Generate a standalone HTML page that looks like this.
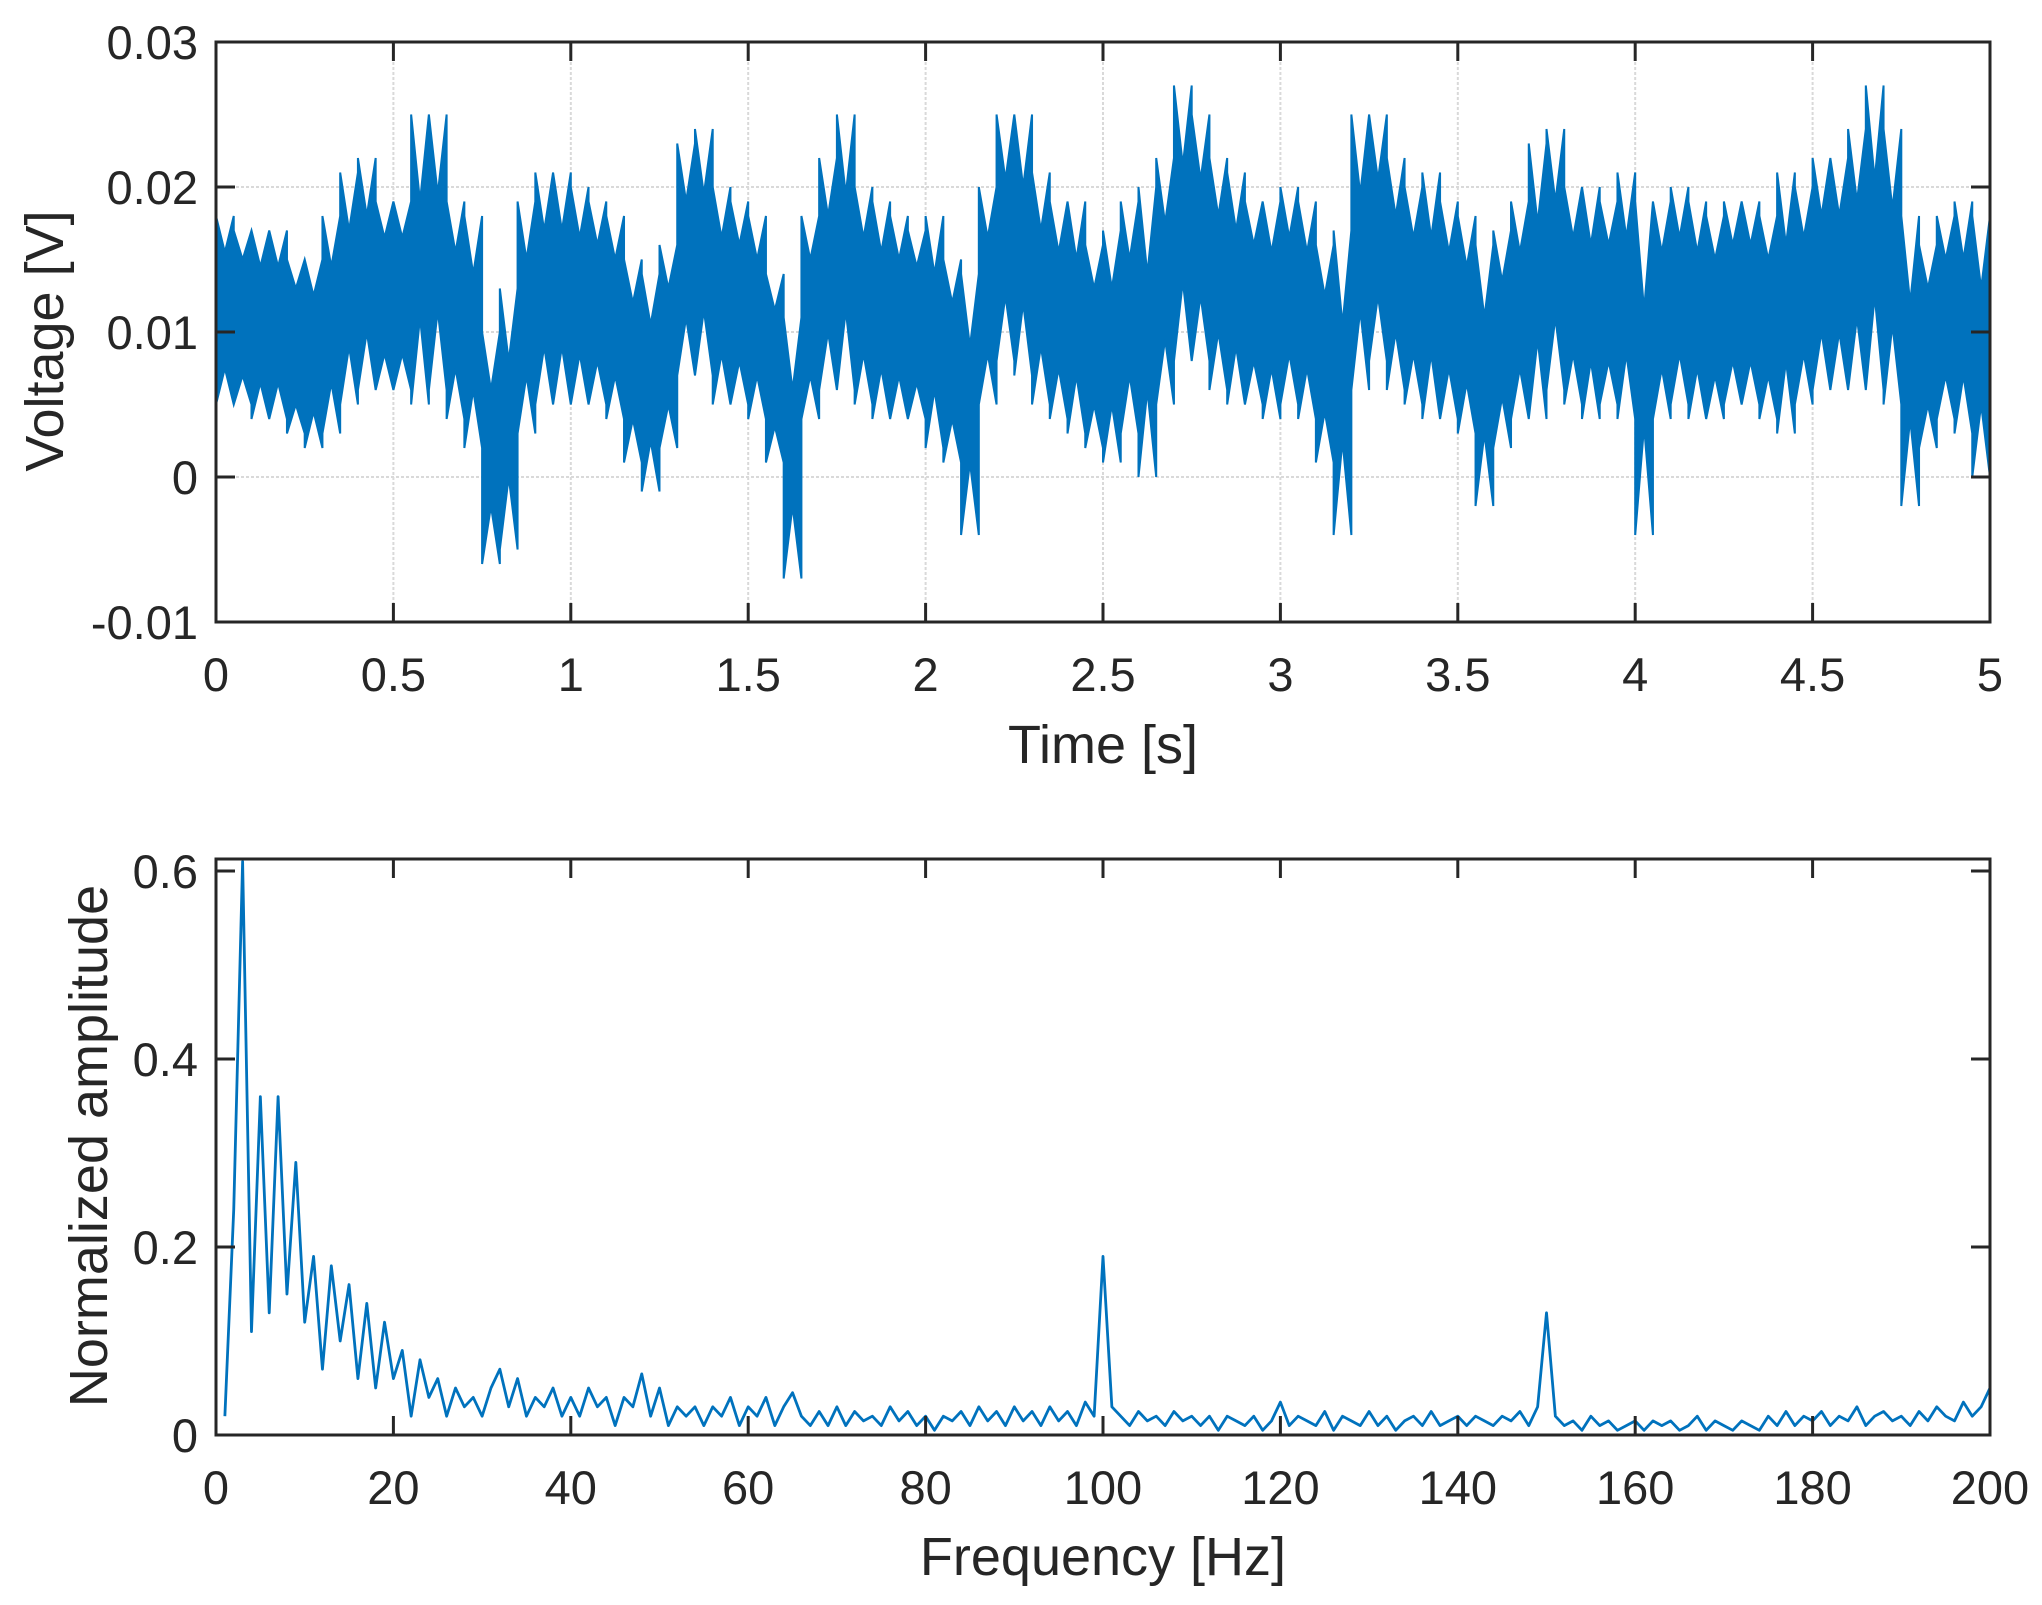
<!DOCTYPE html>
<html><head><meta charset="utf-8"><style>
html,body{margin:0;padding:0;background:#fff;}
svg{display:block;font-family:"Liberation Sans",Arial,sans-serif;}
</style></head><body>
<svg id="fig" width="2042" height="1605" viewBox="0 0 2042 1605" xmlns="http://www.w3.org/2000/svg"></svg>
<script>
// ---- time-domain data (0.05 s bins: upper / lower envelope, V) ----
const binStart = 0, binWidth = 0.05;
const envHi = [0.018,0.017,0.017,0.017,0.015,0.015,0.018,0.021,0.022,0.019,
0.019,0.025,0.025,0.019,0.018,0.010,0.013,0.019,0.021,0.021,
0.020,0.019,0.018,0.015,0.014,0.016,0.023,0.024,0.020,0.019,
0.018,0.014,0.011,0.018,0.022,0.025,0.020,0.019,0.018,0.017,
0.018,0.015,0.014,0.020,0.025,0.025,0.021,0.019,0.019,0.016,
0.017,0.019,0.020,0.022,0.027,0.025,0.022,0.021,0.019,0.019,
0.020,0.019,0.016,0.017,0.025,0.025,0.022,0.020,0.021,0.019,
0.018,0.016,0.017,0.019,0.023,0.024,0.020,0.020,0.019,0.021,
0.019,0.019,0.020,0.019,0.018,0.019,0.019,0.018,0.021,0.020,
0.022,0.022,0.024,0.027,0.024,0.018,0.016,0.018,0.019,0.018];
const envLo = [0.005,0.005,0.004,0.004,0.003,0.002,0.003,0.005,0.006,0.006,
0.006,0.005,0.006,0.004,0.002,-0.006,-0.005,0.003,0.005,0.005,
0.005,0.005,0.004,0.001,-0.001,0.002,0.007,0.007,0.005,0.005,
0.004,0.001,-0.007,0.004,0.006,0.006,0.005,0.004,0.004,0.004,
0.002,0.001,-0.004,0.005,0.008,0.007,0.005,0.004,0.003,0.002,
0.001,0.003,0.000,0.005,0.008,0.008,0.006,0.005,0.005,0.004,
0.005,0.004,0.001,-0.004,0.006,0.008,0.006,0.005,0.004,0.004,
0.003,-0.002,0.002,0.004,0.004,0.006,0.005,0.004,0.005,0.004,
-0.004,0.004,0.005,0.004,0.004,0.005,0.005,0.004,0.003,0.005,
0.006,0.006,0.006,0.006,0.005,-0.002,0.002,0.004,0.003,0.000];
const tTicks = ["0","0.5","1","1.5","2","2.5","3","3.5","4","4.5","5"];
const vTicks = ["-0.01","0","0.01","0.02","0.03"];
// ---- spectrum data (1 Hz steps starting at 1 Hz) ----
const fStart = 1, fStep = 1;
const amps = [0.02,0.24,0.61,0.11,0.36,0.13,0.36,0.15,0.29,0.12,
0.19,0.07,0.18,0.10,0.16,0.06,0.14,0.05,0.12,0.06,
0.09,0.02,0.08,0.04,0.06,0.02,0.05,0.03,0.04,0.02,
0.05,0.07,0.03,0.06,0.02,0.04,0.03,0.05,0.02,0.04,
0.02,0.05,0.03,0.04,0.01,0.04,0.03,0.065,0.02,0.05,
0.01,0.03,0.02,0.03,0.01,0.03,0.02,0.04,0.01,0.03,
0.02,0.04,0.01,0.03,0.045,0.02,0.01,0.025,0.01,0.03,
0.01,0.025,0.015,0.02,0.01,0.03,0.015,0.025,0.01,0.02,
0.005,0.02,0.015,0.025,0.01,0.03,0.015,0.025,0.01,0.03,
0.015,0.025,0.01,0.03,0.015,0.025,0.01,0.035,0.02,0.19,
0.03,0.02,0.01,0.025,0.015,0.02,0.01,0.025,0.015,0.02,
0.01,0.02,0.005,0.02,0.015,0.01,0.02,0.005,0.015,0.035,
0.01,0.02,0.015,0.01,0.025,0.005,0.02,0.015,0.01,0.025,
0.01,0.02,0.005,0.015,0.02,0.01,0.025,0.01,0.015,0.02,
0.01,0.02,0.015,0.01,0.02,0.015,0.025,0.01,0.03,0.13,
0.02,0.01,0.015,0.005,0.02,0.01,0.015,0.005,0.01,0.015,
0.005,0.015,0.01,0.015,0.005,0.01,0.02,0.005,0.015,0.01,
0.005,0.015,0.01,0.005,0.02,0.01,0.025,0.01,0.02,0.015,
0.025,0.01,0.02,0.015,0.03,0.01,0.02,0.025,0.015,0.02,
0.01,0.025,0.015,0.03,0.02,0.015,0.035,0.02,0.03,0.05];
const fTicks = ["0","20","40","60","80","100","120","140","160","180","200"];
const aTicks = ["0","0.2","0.4","0.6"];

const NS="http://www.w3.org/2000/svg";
const svg=document.getElementById('fig');
function mk(tag,attrs,parent){const e=document.createElementNS(NS,tag);for(const k in attrs)e.setAttribute(k,attrs[k]);(parent||svg).appendChild(e);return e;}
const L=216,R=1990;
const T1=42,B1=622,T2=859,B2=1435;
const xT=t=>L+(t-0)/5*(R-L);
const yV=v=>B1-(v+0.01)/0.04*(B1-T1);
const xF=f=>L+f/200*(R-L);
const aMax=0.6*(B2-T2)/564;
const yA=a=>B2-a/aMax*(B2-T2);
const tc='#262626';

// ---- top grid
tTicks.forEach(s=>{const x=xT(parseFloat(s));
 const g=mk('line',{x1:x,x2:x,y1:T1,y2:B1,stroke:'#d9d9d9','stroke-width':2,'stroke-dasharray':'3,2'});
 
 });
vTicks.forEach(s=>{const y=yV(parseFloat(s));
 const g=mk('line',{x1:L,x2:R,y1:y,y2:y,stroke:'#d9d9d9','stroke-width':2,'stroke-dasharray':'3,2'});
 
 });

// ---- voltage signal envelope
let up=[],dn=[];
for(let i=0;i<envHi.length;i++){
 const t0=binStart+i*binWidth, t1=t0+binWidth;
 up.push(xT(t0)+','+yV(envHi[i]));up.push(xT(t0+binWidth*0.5)+','+yV((envHi[i]+envLo[i])/2+0.004));up.push(xT(t1)+','+yV(envHi[i]));
 dn.unshift(xT(t0)+','+yV(envLo[i]));dn.unshift(xT(t0+binWidth*0.5)+','+yV((envHi[i]+envLo[i])/2-0.004));dn.unshift(xT(t1)+','+yV(envLo[i]));
}
const sig=mk('polygon',{points:up.concat(dn).join(' '),fill:'#0072BD',stroke:'#0072BD','stroke-width':2,'stroke-linejoin':'miter'});



// ---- spectrum line
let pts=[];
amps.forEach((a,i)=>pts.push(xF(fStart+i*fStep)+','+yA(a)));
const sp=mk('polyline',{points:pts.join(' '),fill:'none',stroke:'#0072BD','stroke-width':2.8,'stroke-linejoin':'round'});



// ---- axes boxes and ticks
function box(T,B,name){const r=mk('rect',{x:L,y:T,width:R-L,height:B-T,fill:'none',stroke:tc,'stroke-width':3});
 
 }
box(T1,B1,'top-axes-box');box(T2,B2,'bottom-axes-box');
const TL=19;
function tickText(x,y,s,anchor,name){const t=mk('text',{x:x,y:y,'font-size':47,fill:tc,'text-anchor':anchor});t.textContent=s;
 
 }
tTicks.forEach(s=>{const x=xT(parseFloat(s));
 mk('line',{x1:x,x2:x,y1:B1,y2:B1-TL,stroke:tc,'stroke-width':3});mk('line',{x1:x,x2:x,y1:T1,y2:T1+TL,stroke:tc,'stroke-width':3});
 tickText(x,691,s,'middle','x-tick-label');});
vTicks.forEach(s=>{const y=yV(parseFloat(s));
 mk('line',{x1:L,x2:L+TL,y1:y,y2:y,stroke:tc,'stroke-width':3});mk('line',{x1:R,x2:R-TL,y1:y,y2:y,stroke:tc,'stroke-width':3});
 tickText(198,y+17,s,'end','y-tick-label');});
fTicks.forEach(s=>{const x=xF(parseFloat(s));
 mk('line',{x1:x,x2:x,y1:B2,y2:B2-TL,stroke:tc,'stroke-width':3});mk('line',{x1:x,x2:x,y1:T2,y2:T2+TL,stroke:tc,'stroke-width':3});
 tickText(x,1504,s,'middle','freq-tick-label');});
aTicks.forEach(s=>{const y=yA(parseFloat(s));
 mk('line',{x1:L,x2:L+TL,y1:y,y2:y,stroke:tc,'stroke-width':3});mk('line',{x1:R,x2:R-TL,y1:y,y2:y,stroke:tc,'stroke-width':3});
 tickText(198,y+17,s,'end','amp-tick-label');});

function title(x,y,s,rot,name){const t=mk('text',{x:x,y:y,'font-size':54,fill:tc,'text-anchor':'middle',transform:rot?`rotate(-90 ${x} ${y})`:''});t.textContent=s;
 
 }
title(1103,763,'Time [s]',false,'x-axis-title');
title(1103,1575,'Frequency [Hz]',false,'freq-axis-title');
title(63,341,'Voltage [V]',true,'y-axis-title');
title(107,1146,'Normalized amplitude',true,'amp-axis-title');
</script>
</body></html>
